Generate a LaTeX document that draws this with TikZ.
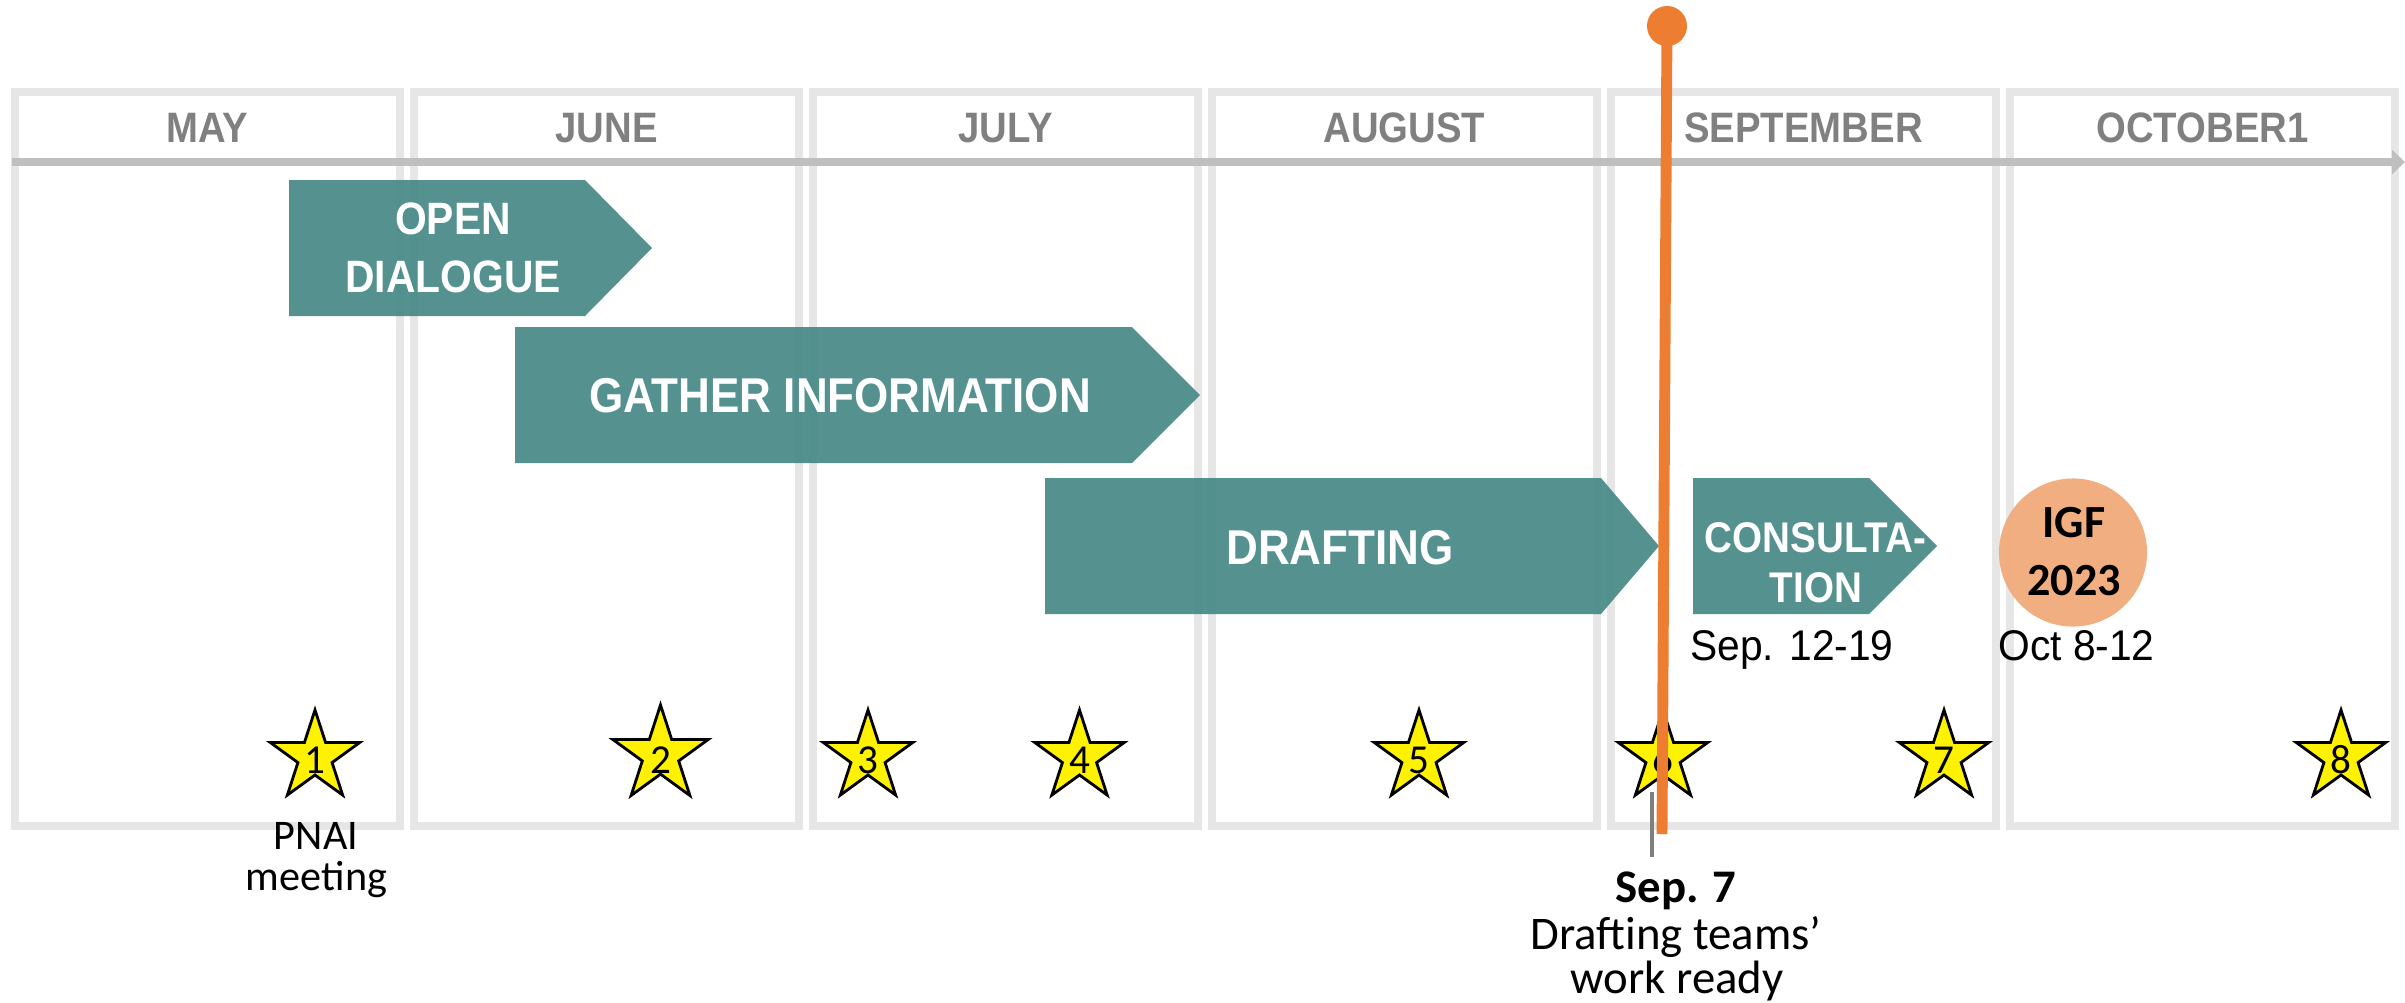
\documentclass[tikz,border=0pt]{standalone}
\usepackage{fontspec}
\usetikzlibrary{shapes.geometric,arrows.meta}
\newfontfamily\condfont[FakeStretch=0.9]{Liberation Sans}
\newfontfamily\narrfont[FakeStretch=0.95]{Liberation Sans}
\newfontfamily\carlfont{Carlito}
\definecolor{boxgrey}{RGB}{231,230,230}
\definecolor{linegrey}{RGB}{191,191,191}
\definecolor{textgrey}{RGB}{128,128,128}
\definecolor{tealc}{RGB}{75,140,137}
\definecolor{orangec}{RGB}{237,125,49}
\definecolor{igfc}{RGB}{241,170,122}
\definecolor{tickgrey}{RGB}{127,127,127}
\tikzset{
  monthbox/.style={draw=boxgrey, line width=2.28pt, minimum width=3.85cm, minimum height=7.34cm, inner sep=0pt},
  monthlabel/.style={anchor=base, text=textgrey, inner sep=0pt, font=\condfont\bfseries\fontsize{12.1}{14}\selectfont},
  timeline/.style={draw=linegrey, line width=2.28pt, -{Triangle[length=0.13cm,width=0.24cm]}},
  phase/.style={fill=tealc, fill opacity=0.95},
  phaselabel/.style={anchor=base, text=white, inner sep=0pt, font=\condfont\bfseries\fontsize{13.9}{16}\selectfont},
  phasesmall/.style={anchor=base, text=white, inner sep=0pt, font=\condfont\bfseries\fontsize{12.9}{15}\selectfont},
  phasecons/.style={anchor=base, text=white, inner sep=0pt, font=\condfont\bfseries\fontsize{12.2}{14}\selectfont},
  datelabel/.style={anchor=base, text=black, inner sep=0pt, font=\narrfont\fontsize{12.2}{14}\selectfont},
  igfdisc/.style={circle, fill=igfc, fill opacity=0.95, minimum size=1.48cm, inner sep=0pt},
  igflabel/.style={anchor=base, text=black, inner sep=0pt, font=\carlfont\bfseries\fontsize{13.1}{15}\selectfont},
  starmark/.style={star, star points=5, star point ratio=2.618, minimum size=0.94cm, inner sep=0pt, draw=black, fill=yellow, line width=0.8pt},
  stardigit/.style={anchor=center, inner sep=0pt, text=black, font=\carlfont\fontsize{11.7}{12}\selectfont},
  notelabel/.style={anchor=base, text=black, inner sep=0pt, font=\carlfont\fontsize{13.3}{15}\selectfont},
  pnailabel/.style={anchor=base, text=black, inner sep=0pt, font=\carlfont\fontsize{12}{14}\selectfont},
  orangeline/.style={draw=orangec, line width=3.1pt},
  tickline/.style={draw=tickgrey, line width=1.4pt},
}
\begin{document}
\begin{tikzpicture}[x=0.01cm, y=-0.01cm]
\useasboundingbox (0,0) rectangle (2405,1002);
\fill[white] (0,0) rectangle (2405,1002);

% month columns
\foreach \i/\nm in {0/MAY,1/JUNE,2/JULY,3/AUGUST,4/SEPTEMBER,5/OCTOBER1}{
  \node[monthbox] (box\i) at ({207.5+399*\i},459) {};
  \node[monthlabel] (mon\i) at ({207.5+399*\i},142.5) {\nm};
}

% timeline axis
\coordinate (tlS) at (12,162);
\coordinate (tlE) at (2405,162);
\draw[timeline] (tlS) -- (tlE);

% phases
\path[phase] (289,180) -- (585,180) -- (652,248) -- (585,316) -- (289,316) -- cycle;
\node[phasesmall] (open1) at (453,234) {OPEN};
\node[phasesmall] (open2) at (453,292) {DIALOGUE};

\path[phase] (515,327) -- (1132,327) -- (1200,395) -- (1132,463) -- (515,463) -- cycle;
\node[phaselabel] (gather) at (840,412) {GATHER INFORMATION};

\path[phase] (1045,478) -- (1601,478) -- (1659,546) -- (1601,614) -- (1045,614) -- cycle;
\node[phaselabel] (draft) at (1340,564) {DRAFTING};

\path[phase] (1693,478) -- (1869,478) -- (1937,546) -- (1869,614) -- (1693,614) -- cycle;
\node[phasecons] (cons1) at (1815.5,552) {CONSULTA-};
\node[phasecons] (cons2) at (1816,602) {TION};

\node[datelabel] (consdate) at (1792,660.5) {Sep. 12-19};

% IGF
\node[igfdisc] (igf) at (2073,552.5) {};
\node[igflabel] (igf1) at (2074,537) {IGF};
\node[igflabel] (igf2) at (2074,595) {2023};
\node[datelabel] (igfdate) at (2076.5,660.5) {Oct 8-12};

% stars
\foreach \k/\sx/\sy/\ss in {1/315/757/0.94cm, 2/660.5/755/1.0cm, 3/868/757/0.94cm, 4/1079.5/757/0.94cm, 5/1419/757/0.94cm, 6/1663/757/0.94cm, 7/1944/757/0.94cm, 8/2341/757/0.94cm}{
  \node[starmark, minimum size=\ss] (s\k) at (\sx,\sy) {};
  \node[stardigit] (d\k) at (\sx,760) {\k};
}

\node[pnailabel] (pnai1) at (316,849) {PNAI};
\node[pnailabel] (pnai2) at (316.5,890) {meeting};

% Sep 7 marker
\coordinate (tk1) at (1652,792);
\coordinate (tk2) at (1652,857);
\draw[tickline] (tk1) -- (tk2);

\node[circle, fill=orangec, minimum size=0.4cm, inner sep=0pt] (dot) at (1667,26) {};
\coordinate (oend) at (1662,834);
\draw[orangeline] (dot.center) -- (oend);

\node[notelabel, font=\carlfont\bfseries\fontsize{13.3}{15}\selectfont] (sep7) at (1676,902) {Sep. 7};
\node[notelabel] (note1) at (1676,949) {Drafting teams’};
\node[notelabel] (note2) at (1677,993) {work ready};
\end{tikzpicture}
\end{document}
